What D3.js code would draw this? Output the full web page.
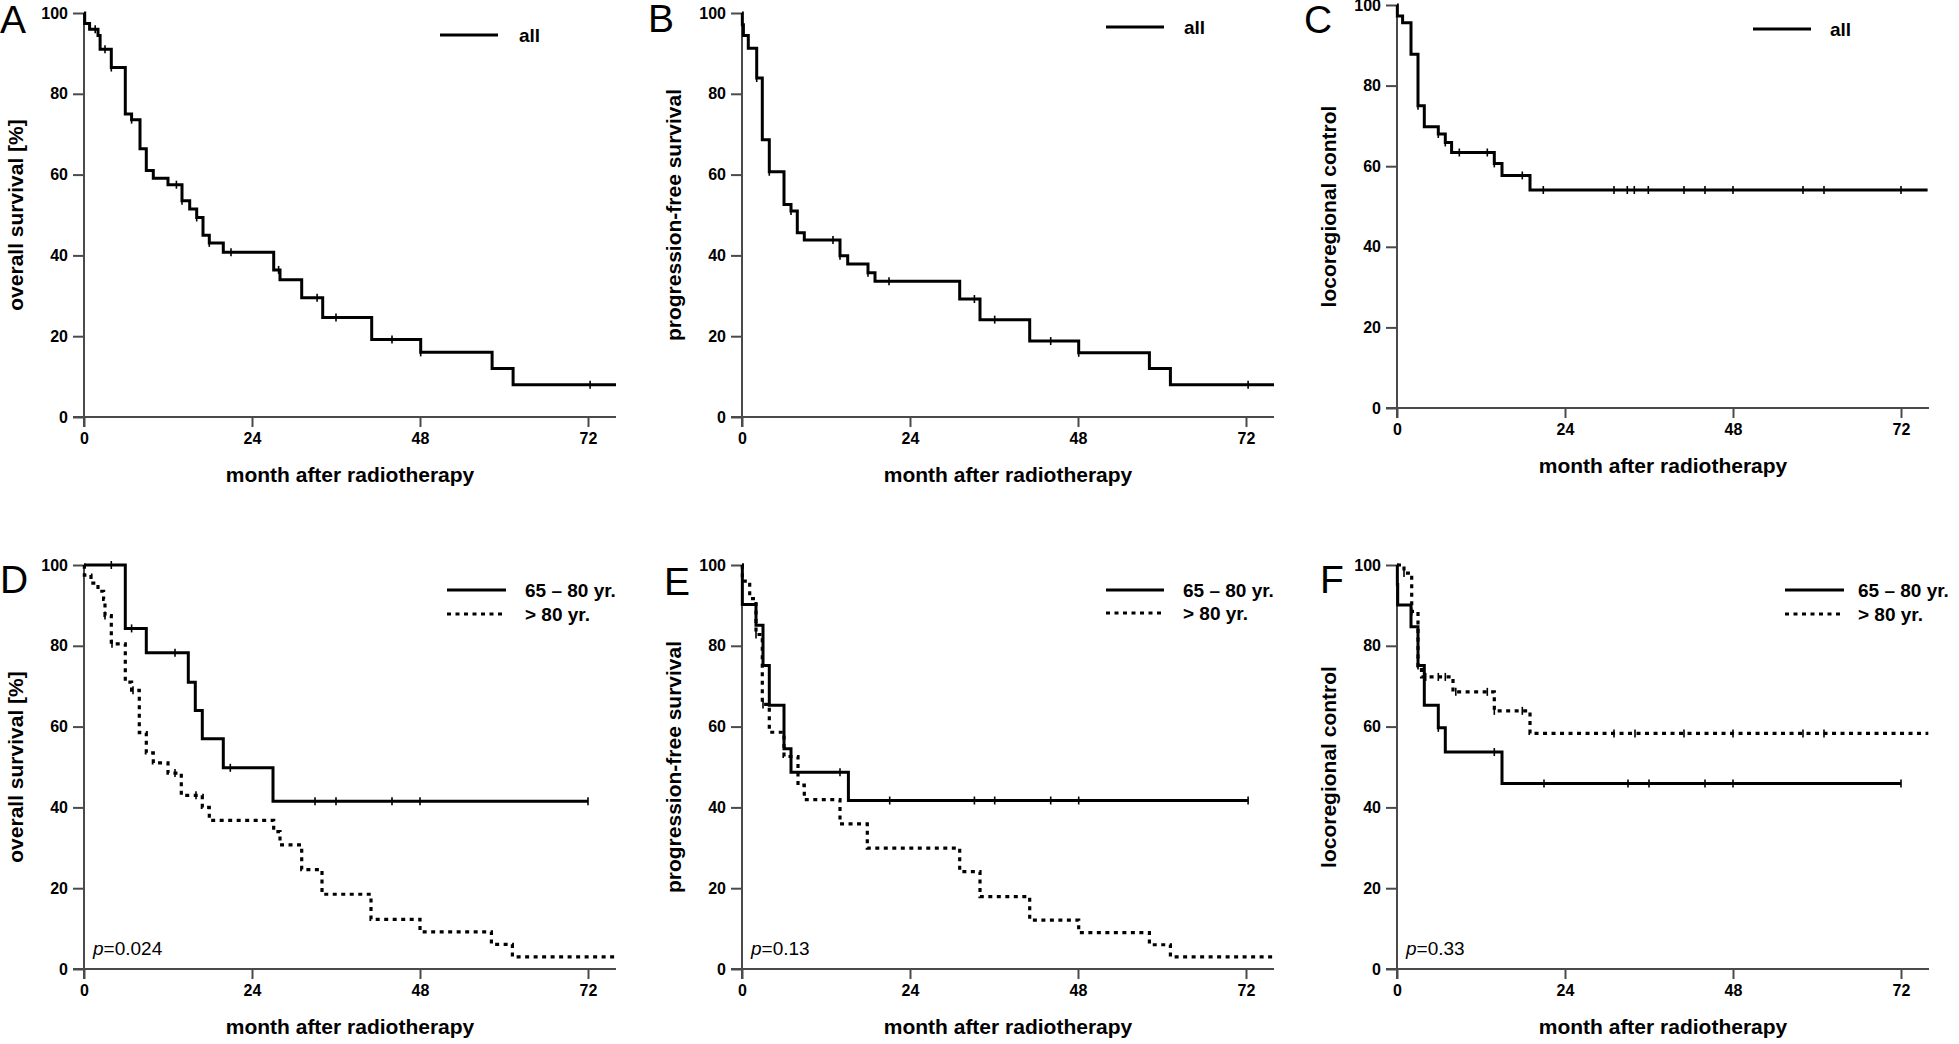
<!DOCTYPE html>
<html>
<head>
<meta charset="utf-8">
<script src="https://cdn.jsdelivr.net/npm/d3@7"></script>
<style>
  html, body { margin: 0; padding: 0; background: #fff; }
  svg { display: block; }
  text { font-family: "Liberation Sans", Arial, sans-serif; }
</style>
</head>
<body>
<svg id="chart" width="1959" height="1044"></svg>
<script>
// ---------------- DATA ----------------
const panelLetters = ["A", "B", "C", "D", "E", "F"];
const yTitles = ["overall survival [%]", "progression-free survival", "locoregional control",
                 "overall survival [%]", "progression-free survival", "locoregional control"];
const xTitle = "month after radiotherapy";
const xTicks = [0, 24, 48, 72];
const yTicks = [0, 20, 40, 60, 80, 100];
const groupNames = ["65 – 80 yr.", "> 80 yr."];
const allName = "all";
const pValues = ["0.024", "0.13", "0.33"];

// A: overall survival, all
const osAllTime = [0, 0.1, 0.8, 2.0, 2.3, 3.9, 5.9, 6.8, 8.0, 8.9, 9.9, 12.0, 14.0, 15.1, 16.1, 17.0, 17.9, 19.9, 27.1, 28.0, 31.1, 34.1, 41.1, 48.1, 58.3, 61.3, 76];
const osAllSurv = [100, 97.4, 96.0, 94.4, 91.0, 86.5, 75.0, 73.6, 66.4, 61.0, 59.1, 57.5, 53.5, 51.5, 49.4, 45.0, 43.1, 40.8, 36.4, 34.0, 29.5, 24.6, 19.2, 16.0, 12.0, 8.0, 8.0];
const osAllCens = [1.6, 3.0, 3.9, 6.8, 13.2, 14.0, 16.1, 17.9, 21.0, 27.8, 33.3, 36.0, 44.0, 48.1, 72.3];

// B: progression-free survival, all
const pfsAllTime = [0, 0.05, 0.2, 0.9, 2.1, 2.9, 3.9, 6.0, 7.0, 7.9, 8.9, 14.0, 15.1, 18.0, 19.0, 31.1, 34.0, 41.1, 48.1, 58.2, 61.2, 76];
const pfsAllSurv = [100, 97.1, 94.4, 91.3, 83.9, 68.6, 60.7, 52.6, 51.0, 45.6, 43.8, 39.9, 37.9, 35.7, 33.6, 29.2, 24.1, 18.8, 15.9, 12.0, 8.0, 8.0];
const pfsAllCens = [2.1, 3.9, 7.0, 13.0, 14.0, 18.0, 21.0, 33.2, 36.1, 44.1, 48.1, 72.3];

// C: locoregional control, all
const lrcAllTime = [0, 0.05, 0.8, 2.0, 3.0, 3.9, 5.9, 6.9, 7.8, 13.9, 15.0, 19.0, 75.8];
const lrcAllSurv = [100, 97.3, 95.6, 87.8, 75.0, 69.8, 68.0, 65.9, 63.4, 60.7, 57.7, 54.1, 54.1];
const lrcAllCens = [3.0, 5.9, 6.9, 8.9, 12.9, 13.9, 17.9, 20.9, 31.0, 32.9, 33.9, 35.9, 41.0, 44.0, 48.0, 58.0, 61.0, 72.0];

// D: overall survival by age
const osYoungTime = [0, 5.9, 8.9, 14.9, 15.9, 16.9, 19.9, 27.0, 72.0];
const osYoungSurv = [100, 84.3, 78.3, 71.0, 64.0, 57.0, 49.8, 41.5, 41.5];
const osYoungCens = [3.9, 6.8, 13.0, 20.9, 33.0, 36.0, 44.0, 48.0, 72.0];
const osOldTime = [0, 0.05, 1.0, 2.0, 2.8, 3.0, 3.9, 5.9, 6.8, 7.9, 8.9, 9.9, 12.0, 13.9, 16.9, 17.9, 27.1, 28.0, 31.1, 34.0, 41.0, 48.0, 58.2, 61.2, 76];
const osOldSurv = [100, 97.5, 95.5, 93.5, 91.5, 87.5, 80.5, 71.0, 69.0, 58.5, 53.5, 51.0, 48.5, 43.0, 40.0, 36.8, 34.0, 30.7, 24.6, 18.5, 12.3, 9.2, 6.1, 3.0, 3.0];
const osOldCens = [3.0, 4.0, 7.0, 13.0, 16.0];

// E: progression-free survival by age
const pfsYoungTime = [0, 0.05, 2.0, 3.0, 3.9, 6.0, 7.0, 15.2, 72.3];
const pfsYoungSurv = [100, 90.2, 85.1, 75.1, 65.3, 54.5, 48.7, 41.7, 41.7];
const pfsYoungCens = [14.0, 21.1, 33.2, 36.1, 44.1, 48.1, 72.3];
const pfsOldTime = [0, 0.05, 1.1, 2.0, 2.9, 3.9, 6.0, 8.0, 8.9, 14.0, 17.9, 31.1, 34.0, 41.1, 48.1, 58.2, 61.2, 76];
const pfsOldSurv = [100, 96.0, 91.7, 82.8, 65.5, 58.6, 52.6, 45.5, 41.9, 35.9, 29.9, 24.1, 17.9, 12.1, 9.0, 6.0, 3.0, 3.0];
const pfsOldCens = [2.0, 3.0, 7.0];

// F: locoregional control by age
const lrcYoungTime = [0, 0.05, 0.1, 2.0, 3.0, 3.9, 5.9, 6.9, 15.0, 72.0];
const lrcYoungSurv = [100, 95.2, 90.1, 84.7, 75.1, 65.3, 59.7, 53.7, 45.9, 45.9];
const lrcYoungCens = [3.0, 5.9, 13.9, 21.0, 33.0, 36.0, 44.0, 48.0, 72.0];
const lrcOldTime = [0, 1.0, 2.1, 3.0, 3.5, 8.0, 13.9, 19.0, 75.9];
const lrcOldSurv = [100, 98.0, 88.5, 75.0, 72.3, 68.6, 63.9, 58.3, 58.3];
const lrcOldCens = [1.0, 2.1, 4.1, 5.9, 6.9, 8.4, 12.9, 13.9, 17.9, 31.0, 34.0, 41.0, 48.0, 58.0, 61.0];

// ---------------- LAYOUT ----------------
const svg = d3.select("#chart");
const axisColor = "#4a4a4a";

const panels = [
  { x0: 84,   yBot: 417, yTop: 13,  letter: [0, 33],    legendX: [440, 498, 519],   legendY: [35],        curves: [[osAllTime, osAllSurv, osAllCens, false]] },
  { x0: 742,  yBot: 417, yTop: 13,  letter: [648, 32],  legendX: [1106, 1164, 1184], legendY: [27],       curves: [[pfsAllTime, pfsAllSurv, pfsAllCens, false]] },
  { x0: 1397, yBot: 408, yTop: 5,   letter: [1304, 33], legendX: [1753, 1811, 1830], legendY: [29],       curves: [[lrcAllTime, lrcAllSurv, lrcAllCens, false]] },
  { x0: 84,   yBot: 969, yTop: 565, letter: [0, 593],   legendX: [447, 506, 525],   legendY: [590, 614],   curves: [[osYoungTime, osYoungSurv, osYoungCens, false], [osOldTime, osOldSurv, osOldCens, true]], p: 0 },
  { x0: 742,  yBot: 969, yTop: 565, letter: [664, 595], legendX: [1106, 1164, 1183], legendY: [590, 613], curves: [[pfsYoungTime, pfsYoungSurv, pfsYoungCens, false], [pfsOldTime, pfsOldSurv, pfsOldCens, true]], p: 1 },
  { x0: 1397, yBot: 969, yTop: 565, letter: [1320, 593], legendX: [1785, 1844, 1858], legendY: [590, 614], curves: [[lrcYoungTime, lrcYoungSurv, lrcYoungCens, false], [lrcOldTime, lrcOldSurv, lrcOldCens, true]], p: 2 }
];

const pxPerMonth = 7.0;
const xMax = 76;

function stepValue(times, surv, t) {
  let v = surv[0];
  for (let i = 0; i < times.length; i++) { if (times[i] <= t) v = surv[i]; }
  return v;
}

panels.forEach((p, i) => {
  const x = d3.scaleLinear().domain([0, xMax]).range([p.x0, p.x0 + xMax * pxPerMonth]);
  const y = d3.scaleLinear().domain([0, 100]).range([p.yBot, p.yTop]);
  const g = svg.append("g");

  // x axis
  const xAxis = d3.axisBottom(x).tickValues(xTicks).tickSize(10).tickPadding(6).tickSizeOuter(0);
  const gx = g.append("g").attr("transform", `translate(0,${p.yBot})`).call(xAxis);
  gx.select(".domain").remove();
  gx.append("line").attr("x1", p.x0 - 11).attr("x2", x(xMax)).attr("y1", 0).attr("y2", 0)
    .attr("stroke", axisColor).attr("stroke-width", 2);
  gx.selectAll(".tick line").attr("stroke", axisColor).attr("stroke-width", 2);
  gx.selectAll(".tick text").attr("fill", "#000").attr("font-size", 16).attr("font-weight", "bold")
    .attr("font-family", "Liberation Sans, Arial, sans-serif");

  // y axis
  const yAxis = d3.axisLeft(y).tickValues(yTicks).tickSize(11).tickPadding(5).tickSizeOuter(0);
  const gy = g.append("g").attr("transform", `translate(${p.x0},0)`).call(yAxis);
  gy.select(".domain").remove();
  gy.append("line").attr("x1", 0).attr("x2", 0).attr("y1", y(100)).attr("y2", p.yBot + 10)
    .attr("stroke", axisColor).attr("stroke-width", 2);
  gy.selectAll(".tick line").attr("stroke", axisColor).attr("stroke-width", 2);
  gy.selectAll(".tick text").attr("fill", "#000").attr("font-size", 16).attr("font-weight", "bold")
    .attr("font-family", "Liberation Sans, Arial, sans-serif");

  // axis titles
  g.append("text").attr("x", (p.x0 + x(xMax)) / 2).attr("y", p.yBot + 65)
    .attr("text-anchor", "middle").attr("font-size", 21).attr("font-weight", "bold").text(xTitle);
  const cy = (y(100) + p.yBot) / 2;
  g.append("text").attr("transform", `translate(${p.x0 - 61},${cy}) rotate(-90)`)
    .attr("text-anchor", "middle").attr("font-size", 21).attr("font-weight", "bold").text(yTitles[i]);

  // panel letter
  g.append("text").attr("x", p.letter[0]).attr("y", p.letter[1])
    .attr("font-family", "Open Sans, Noto Sans, sans-serif").attr("font-size", 39)
    .attr("font-weight", 400).text(panelLetters[i]);

  // curves
  const line = d3.line().x(d => x(d[0])).y(d => y(d[1])).curve(d3.curveStepAfter);
  p.curves.forEach(([times, surv, cens, dotted]) => {
    const pts = times.map((t, k) => [t, surv[k]]);
    g.append("path").attr("d", line(pts)).attr("fill", "none").attr("stroke", "#000")
      .attr("stroke-width", dotted ? 3.2 : 3).attr("stroke-dasharray", dotted ? "4,4.5" : null)
      .attr("stroke-linejoin", "miter");
    g.selectAll(null).data(cens).enter().append("line")
      .attr("x1", d => x(d)).attr("x2", d => x(d))
      .attr("y1", d => y(stepValue(times, surv, d)) - 4)
      .attr("y2", d => y(stepValue(times, surv, d)) + 4)
      .attr("stroke", "#000").attr("stroke-width", 1.6);
  });

  // legend
  const names = p.curves.length === 1 ? [allName] : groupNames;
  names.forEach((nm, k) => {
    const ly = p.legendY[k];
    g.append("line").attr("x1", p.legendX[0]).attr("x2", p.legendX[1]).attr("y1", ly).attr("y2", ly)
      .attr("stroke", "#000").attr("stroke-width", k === 0 ? 3 : 3.2)
      .attr("stroke-dasharray", k === 1 ? "4,4.5" : null);
    g.append("text").attr("x", p.legendX[2]).attr("y", ly + 7).attr("font-size", 19)
      .attr("font-weight", "bold").text(nm);
  });

  // p value
  if (p.p !== undefined) {
    const t = g.append("text").attr("x", p.x0 + 9).attr("y", 955).attr("font-size", 19);
    t.append("tspan").attr("font-style", "italic").text("p");
    t.append("tspan").text("=" + pValues[p.p]);
  }
});
</script>
</body>
</html>
